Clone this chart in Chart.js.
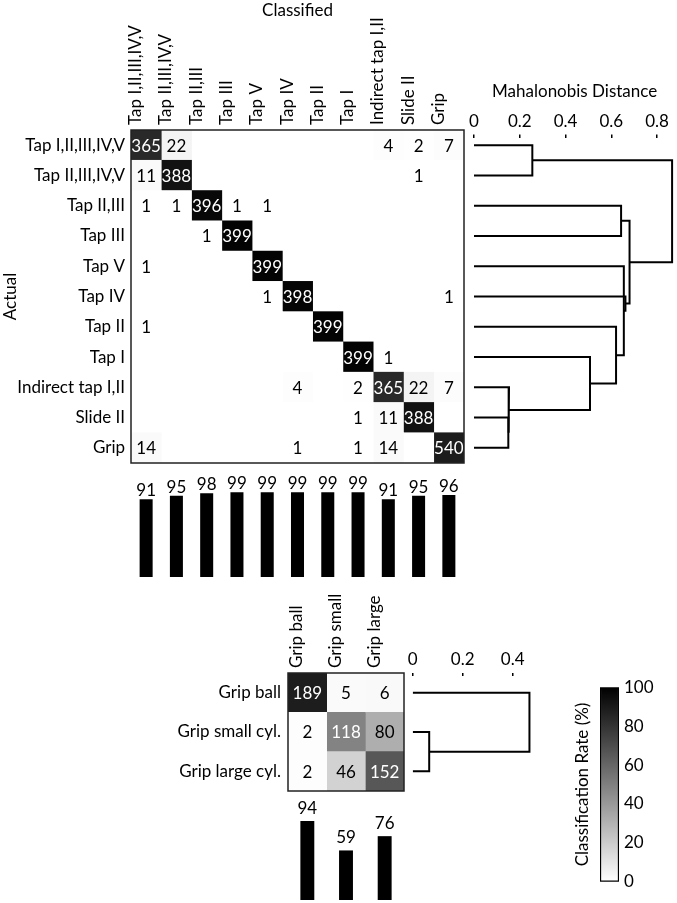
<!DOCTYPE html>
<html>
<head>
<meta charset="utf-8">
<script src="https://cdn.jsdelivr.net/npm/chart.js@4.4.1/dist/chart.umd.min.js"></script>
<style>
  body { margin: 0; background: #fff; width: 677px; height: 903px; position: relative; overflow: hidden; }
  canvas { position: absolute; }
</style>
</head>
<body>
<canvas id="cm1" style="left:0px;top:0px" width="470" height="481"></canvas>
<canvas id="dend1" style="left:460px;top:81px" width="217" height="400"></canvas>
<canvas id="bars1" style="left:0px;top:465px" width="470" height="115"></canvas>
<canvas id="cm2" style="left:100px;top:570px" width="310" height="239"></canvas>
<canvas id="dend2" style="left:398px;top:640px" width="145" height="169"></canvas>
<canvas id="bars2" style="left:0px;top:795px" width="470" height="108"></canvas>
<canvas id="cbar" style="left:572px;top:670px" width="105" height="228"></canvas>
<script>
// ---- data ----
var gestures = ['Tap I,II,III,IV,V', 'Tap II,III,IV,V', 'Tap II,III', 'Tap III', 'Tap V', 'Tap IV',
                'Tap II', 'Tap I', 'Indirect tap I,II', 'Slide II', 'Grip'];
var counts = [
  [365, 22, 0, 0, 0, 0, 0, 0, 4, 2, 7],
  [11, 388, 0, 0, 0, 0, 0, 0, 0, 1, 0],
  [1, 1, 396, 1, 1, 0, 0, 0, 0, 0, 0],
  [0, 0, 1, 399, 0, 0, 0, 0, 0, 0, 0],
  [1, 0, 0, 0, 399, 0, 0, 0, 0, 0, 0],
  [0, 0, 0, 0, 1, 398, 0, 0, 0, 0, 1],
  [1, 0, 0, 0, 0, 0, 399, 0, 0, 0, 0],
  [0, 0, 0, 0, 0, 0, 0, 399, 1, 0, 0],
  [0, 0, 0, 0, 0, 4, 0, 2, 365, 22, 7],
  [0, 0, 0, 0, 0, 0, 0, 1, 11, 388, 0],
  [14, 0, 0, 0, 0, 1, 0, 1, 14, 0, 540]
];
var rates = [91, 95, 98, 99, 99, 99, 99, 99, 91, 95, 96];
// linkage: [clusterA, clusterB, distance], new clusters numbered from 11
var linkage = [
  [0, 1, 0.255], [2, 3, 0.643], [9, 10, 0.150], [8, 13, 0.153], [7, 14, 0.507],
  [6, 15, 0.621], [4, 16, 0.655], [5, 17, 0.662], [12, 18, 0.680], [11, 19, 0.866]
];
var distTicks = [0, 0.2, 0.4, 0.6, 0.8];

var gripRows = ['Grip ball', 'Grip small cyl.', 'Grip large cyl.'];
var gripCols = ['Grip ball', 'Grip small', 'Grip large'];
var gripCounts = [
  [189, 5, 6],
  [2, 118, 80],
  [2, 46, 152]
];
var gripRates = [94, 59, 76];
var gripLinkage = [[1, 2, 0.066], [0, 3, 0.467]];
var gripDistTicks = [0, 0.2, 0.4];

var colorbarTicks = [0, 20, 40, 60, 80, 100];

// ---- setup ----
var FONT = 'Lato';
Chart.defaults.font.family = FONT;
Chart.defaults.font.size = 17;
Chart.defaults.color = '#000';
Chart.defaults.animation = false;
Chart.defaults.responsive = false;
Chart.defaults.plugins.legend.display = false;
Chart.defaults.plugins.tooltip.enabled = false;

function shade(r) {
  var g = Math.round(255 * Math.pow(1 - r, 0.75));
  return 'rgb(' + g + ',' + g + ',' + g + ')';
}

var framePlugin = {
  id: 'frame',
  afterDraw: function(chart) {
    var a = chart.chartArea, ctx = chart.ctx;
    ctx.save();
    ctx.strokeStyle = '#222';
    ctx.lineWidth = 1.5;
    ctx.strokeRect(a.left, a.top, a.right - a.left, a.bottom - a.top);
    ctx.restore();
  }
};

function cellText(cnt, rt) {
  return {
    id: 'cellText',
    afterDatasetsDraw: function(chart) {
      var ctx = chart.ctx;
      ctx.save();
      ctx.font = '17px ' + FONT;
      ctx.textAlign = 'center';
      ctx.textBaseline = 'middle';
      chart.data.datasets.forEach(function(ds, j) {
        chart.getDatasetMeta(j).data.forEach(function(bar, i) {
          var v = cnt[i][j];
          if (!v) return;
          ctx.fillStyle = rt[i][j] > 0.5 ? '#fff' : '#000';
          ctx.fillText(v, (bar.x + bar.base) / 2, bar.y + 1);
        });
      });
      ctx.restore();
    }
  };
}

function valueLabels(vals, gap) {
  return {
    id: 'valueLabels',
    afterDatasetsDraw: function(chart) {
      var ctx = chart.ctx;
      ctx.save();
      ctx.font = '17px ' + FONT;
      ctx.textAlign = 'center';
      ctx.textBaseline = 'alphabetic';
      ctx.fillStyle = '#000';
      chart.getDatasetMeta(0).data.forEach(function(bar, i) {
        ctx.fillText(vals[i], bar.x, bar.y - gap);
      });
      ctx.restore();
    }
  };
}

function makeMatrix(id, rows, cols, cnt, o) {
  var totals = cnt.map(function(r) { return r.reduce(function(s, v) { return s + v; }, 0); });
  var rt = cnt.map(function(r, i) { return r.map(function(v) { return v / totals[i]; }); });
  return new Chart(document.getElementById(id), {
    type: 'bar',
    data: {
      labels: rows,
      datasets: cols.map(function(c, j) {
        return {
          label: c,
          data: rows.map(function() { return 1; }),
          backgroundColor: rt.map(function(r) { return shade(r[j]); }),
          borderWidth: 0,
          barPercentage: 1,
          categoryPercentage: 1
        };
      })
    },
    options: {
      indexAxis: 'y',
      layout: { padding: { right: o.padRight, bottom: o.padBottom } },
      scales: {
        x: { stacked: true, min: 0, max: cols.length, display: false },
        y: {
          stacked: true,
          grid: { display: false, drawTicks: false },
          border: { display: false },
          ticks: { padding: o.labelPad, autoSkip: false },
          title: { display: !!o.yTitle, text: o.yTitle || '', padding: 0 },
          afterFit: function(s) { s.width = o.yWidth; }
        },
        x2: {
          type: 'category',
          labels: cols,
          position: 'top',
          offset: true,
          grid: { display: false, drawTicks: false },
          border: { display: false },
          ticks: { minRotation: 90, maxRotation: 90, autoSkip: false, padding: 5, labelOffset: 10 },
          title: { display: !!o.xTitle, text: o.xTitle || '', padding: 0 },
          afterFit: function(s) { s.height = o.xHeight; }
        }
      }
    },
    plugins: [framePlugin, cellText(cnt, rt)]
  });
}

function dendroSegments(n, links) {
  var pos = [], h = [];
  for (var i = 0; i < n; i++) { pos.push(i); h.push(0); }
  return links.map(function(l) {
    var a = l[0], b = l[1], d = l[2];
    var seg = [{ x: h[a], y: pos[a] }, { x: d, y: pos[a] }, { x: d, y: pos[b] }, { x: h[b], y: pos[b] }];
    pos.push((pos[a] + pos[b]) / 2);
    h.push(d);
    return seg;
  });
}

function makeDendro(id, n, links, ticks, o) {
  return new Chart(document.getElementById(id), {
    type: 'scatter',
    data: {
      datasets: dendroSegments(n, links).map(function(seg) {
        return { data: seg, showLine: true, borderColor: '#000', borderWidth: 2, pointRadius: 0, tension: 0 };
      })
    },
    options: {
      layout: { padding: o.padding },
      scales: {
        x: {
          type: 'linear', position: 'top', min: 0, max: o.xMax,
          afterBuildTicks: function(s) { s.ticks = ticks.map(function(v) { return { value: v }; }); },
          grid: { drawOnChartArea: false, tickLength: 3, color: '#000', lineWidth: 1.5 },
          border: { display: false },
          ticks: { padding: 3 },
          title: { display: !!o.title, text: o.title || '', padding: 0 },
          afterFit: function(s) { s.height = o.axisHeight; }
        },
        y: { type: 'linear', reverse: true, min: o.yMin, max: n - 0.5, display: false }
      }
    }
  });
}

function makeBars(id, cats, vals, o) {
  return new Chart(document.getElementById(id), {
    type: 'bar',
    data: {
      labels: cats,
      datasets: [{ data: vals, backgroundColor: '#000', barPercentage: o.barPct, categoryPercentage: 1 }]
    },
    options: {
      layout: { padding: o.padding },
      scales: { x: { display: false }, y: { display: false, min: 0, max: 100 } }
    },
    plugins: [valueLabels(vals, o.gap)]
  });
}

// ---- charts ----
makeMatrix('cm1', gestures, gestures, counts,
  { yWidth: 131, xHeight: 130, padRight: 6, padBottom: 18, labelPad: 6, xTitle: 'Classified', yTitle: 'Actual' });
makeDendro('dend1', gestures.length, linkage, distTicks,
  { xMax: 0.88, yMin: -0.25, axisHeight: 56.6, title: 'Mahalonobis Distance',
    padding: { left: 14, right: 1.7, bottom: 18 } });
makeBars('bars1', gestures, rates,
  { barPct: 0.43, gap: 3, padding: { left: 131, right: 6, top: 26.5, bottom: 3 } });

makeMatrix('cm2', gripRows, gripCols, gripCounts,
  { yWidth: 188, xHeight: 103, padRight: 6, padBottom: 18, labelPad: 7 });
makeDendro('dend2', gripRows.length, gripLinkage, gripDistTicks,
  { xMax: 0.5, yMin: -0.424, axisHeight: 36, padding: { left: 14.7, right: 5.3, bottom: 18 } });
makeBars('bars2', gripCols, gripRates,
  { barPct: 0.36, gap: 7, padding: { left: 288, right: 66, top: 21, bottom: 3 } });

new Chart(document.getElementById('cbar'), {
  type: 'bar',
  data: {
    labels: ['Classification Rate'],
    datasets: [{
      data: [100],
      backgroundColor: function(c) {
        var a = c.chart.chartArea;
        if (!a) return '#888';
        var g = c.chart.ctx.createLinearGradient(0, a.bottom, 0, a.top);
        g.addColorStop(0, '#fff');
        g.addColorStop(1, '#000');
        return g;
      },
      borderColor: '#000',
      borderWidth: 1.5,
      borderSkipped: false,
      barPercentage: 1,
      categoryPercentage: 1
    }]
  },
  options: {
    layout: { padding: { top: 17.3, bottom: 16.3 } },
    scales: {
      x: { display: false },
      y: {
        position: 'right', min: 0, max: 100,
        afterBuildTicks: function(s) { s.ticks = colorbarTicks.map(function(v) { return { value: v }; }); },
        grid: { display: false, drawTicks: false },
        border: { display: false },
        ticks: { padding: 5 },
        afterFit: function(s) { s.width = 58; }
      },
      yt: {
        type: 'linear', position: 'left',
        grid: { display: false, drawTicks: false },
        border: { display: false },
        ticks: { display: false },
        title: { display: true, text: 'Classification Rate (%)', padding: 0 },
        afterFit: function(s) { s.width = 28; }
      }
    }
  }
});
</script>
</body>
</html>
